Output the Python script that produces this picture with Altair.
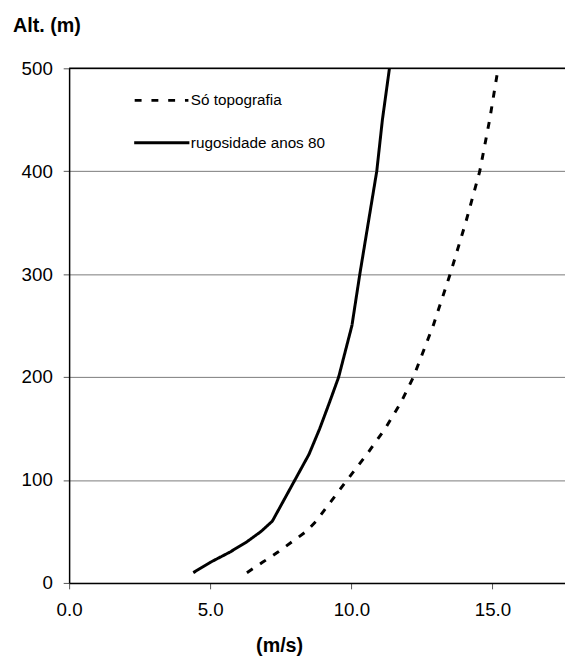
import altair as alt
import pandas as pd

# ---- data ----
heights = [10, 20, 30, 40, 50, 60, 80, 100, 125, 150, 175, 200, 250, 300, 350, 400, 450, 500]
speed_topo = [6.3, 6.85, 7.4, 7.9, 8.4, 8.75, 9.3, 9.85, 10.55, 11.2, 11.75, 12.2, 12.9, 13.5, 14.05, 14.55, 14.9, 15.2]
speed_rug = [4.4, 5.0, 5.7, 6.3, 6.8, 7.2, 7.6, 8.0, 8.5, 8.88, 9.22, 9.55, 10.02, 10.3, 10.6, 10.9, 11.1, 11.35]
series = ["Só topografia", "rugosidade anos 80"]
x_ticks = [0, 5, 10, 15]
y_ticks = [0, 100, 200, 300, 400, 500]

rows = []
for h, a, b in zip(heights, speed_topo, speed_rug):
    rows.append({"serie": series[0], "h": h, "v": a})
    rows.append({"serie": series[1], "h": h, "v": b})
df = pd.DataFrame(rows)

FONT = "Liberation Sans"
W, H = 503, 522

xscale = alt.Scale(domain=[0, 17.57], nice=False, zero=True)
yscale = alt.Scale(domain=[0, 500], nice=False)

lines = alt.Chart(df).mark_line(strokeWidth=3, color="black").encode(
    x=alt.X("v:Q", scale=xscale,
            axis=alt.Axis(values=x_ticks, format=".1f", grid=False, labelFlush=False,
                          title="(m/s)", titleX=213, titleY=69.5,
                          titleAlign="center", titleBaseline="alphabetic",
                          titleFontSize=20, titleFontWeight="bold", titleFont=FONT,
                          labelFont=FONT, labelFontSize=19, labelColor="black",
                          labelPadding=12, tickSize=6, tickColor="#555555",
                          domainColor="black", domainWidth=1.5)),
    y=alt.Y("h:Q", scale=yscale,
            axis=alt.Axis(values=y_ticks, format="d", grid=True, gridColor="#7a7a7a",
                          gridWidth=1, labelFlush=False, title="Alt. (m)", titleAngle=0,
                          titleX=-57.5, titleY=-37.8, titleAlign="left",
                          titleBaseline="alphabetic", titleFontSize=20,
                          titleFontWeight="bold", titleFont=FONT,
                          labelFont=FONT, labelFontSize=19, labelColor="black",
                          labelPadding=11, tickSize=6, tickColor="#555555",
                          domainColor="black", domainWidth=1.5)),
    strokeDash=alt.StrokeDash("serie:N",
                              scale=alt.Scale(domain=series, range=[[7, 9], [1, 0]]),
                              legend=None),
    order=alt.Order("h:Q"),
)

top_line = alt.Chart(pd.DataFrame({"h": [y_ticks[-1]]})).mark_rule(
    color="black", strokeWidth=1.5).encode(y=alt.Y("h:Q", scale=yscale))

# manual legend, placed inside the plot like the original
leg1 = pd.DataFrame({"serie": [series[0]]})
leg2 = pd.DataFrame({"serie": [series[1]]})
leg_line1 = alt.Chart(leg1).mark_rule(color="black", strokeWidth=3, strokeDash=[7, 10]).encode(
    x=alt.value(66.5), x2=alt.value(121), y=alt.value(32.5))
leg_line2 = alt.Chart(leg2).mark_rule(color="black", strokeWidth=3).encode(
    x=alt.value(66), x2=alt.value(122), y=alt.value(75.5))
leg_txt1 = alt.Chart(leg1).mark_text(align="left", baseline="middle", font=FONT,
                                     fontSize=15.5, color="black").encode(
    x=alt.value(123.5), y=alt.value(32.5), text="serie:N")
leg_txt2 = alt.Chart(leg2).mark_text(align="left", baseline="middle", font=FONT,
                                     fontSize=15.5, color="black").encode(
    x=alt.value(123.5), y=alt.value(75.5), text="serie:N")

chart = alt.layer(lines, top_line, leg_line1, leg_line2, leg_txt1, leg_txt2).properties(
    width=W, height=H,
    autosize=alt.AutoSizeParams(type="none"),
    padding={"left": 62, "top": 56.5, "right": 0, "bottom": 75},
    background="white",
).configure_view(stroke=None)

chart.save("out.html", embed_options={"renderer": "svg", "actions": False})
